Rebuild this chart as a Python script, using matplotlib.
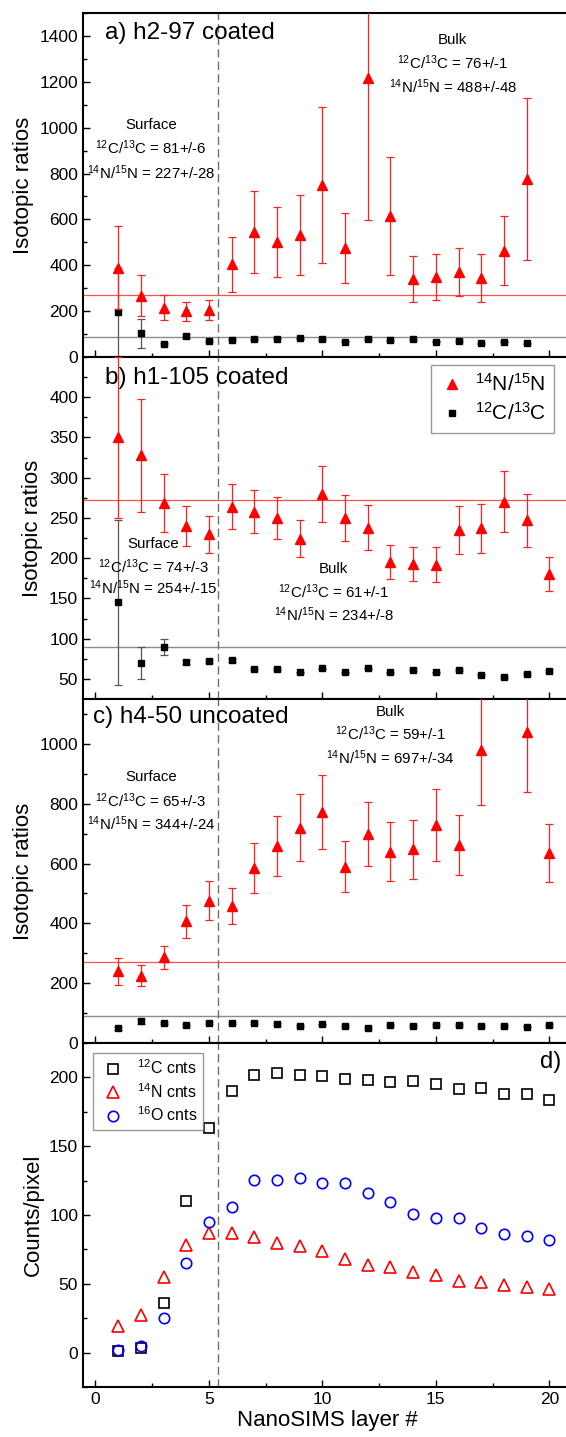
import matplotlib.pyplot as plt
from matplotlib.ticker import MultipleLocator
from matplotlib.lines import Line2D
import numpy as np

plt.rcParams['font.family'] = ['Liberation Sans', 'DejaVu Sans']
plt.rcParams['mathtext.fontset'] = 'custom'
plt.rcParams['mathtext.rm'] = 'Liberation Sans'
plt.rcParams['mathtext.it'] = 'Liberation Sans:italic'
plt.rcParams['mathtext.bf'] = 'Liberation Sans:bold'

# ---- data ----
layers = np.arange(1, 21)

# a) h2-97 coated
a_x = np.arange(1, 20)
a_n = [390, 268, 215, 200, 205, 405, 545, 500, 532, 748, 475, 1215, 615, 340, 350, 369, 344, 464, 777]
a_n_err = [180, 90, 55, 42, 45, 120, 178, 153, 175, 340, 153, 617, 256, 102, 100, 105, 103, 150, 352]
a_c = [195, 103, 58, 92, 70, 76, 77, 80, 81, 77, 67, 77, 73, 77, 67, 70, 60, 67, 60]
a_c_err = [195, 62, 5, 10, 5, 3, 3, 3, 3, 3, 3, 3, 3, 3, 3, 3, 3, 3, 3]

# b) h1-105 coated
b_x = np.arange(1, 21)
b_n = [350, 328, 268, 240, 230, 264, 258, 250, 224, 280, 250, 238, 195, 193, 192, 235, 237, 270, 247, 180]
b_n_err = [100, 70, 36, 25, 23, 28, 27, 26, 23, 35, 29, 28, 21, 21, 22, 30, 30, 38, 33, 21]
b_c = [145, 70, 90, 71, 72, 73, 62, 62, 58, 63, 58, 63, 58, 61, 58, 61, 55, 52, 56, 60]
b_c_err = [103, 20, 10, 3, 2, 2, 1, 1, 1, 1, 1, 1, 1, 1, 1, 1, 1, 1, 1, 1]

# c) h4-50 uncoated
c_nx = [1, 2, 3, 4, 5, 6, 7, 8, 9, 10, 11, 12, 13, 14, 15, 16, 17, 19, 20]
c_n = [240, 225, 287, 407, 475, 458, 585, 658, 720, 773, 590, 700, 639, 648, 728, 661, 980, 1039, 635]
c_n_err = [45, 35, 38, 55, 65, 60, 83, 100, 113, 123, 85, 107, 99, 99, 121, 101, 185, 201, 97]
c_cx = np.arange(1, 21)
c_c = [49, 72, 66, 60, 66, 68, 66, 64, 57, 62, 57, 51, 60, 57, 60, 60, 58, 58, 55, 60]
c_c_err = [5, 8, 3, 3, 3, 3, 3, 3, 3, 3, 3, 3, 3, 3, 3, 3, 3, 3, 3, 3]

# d) counts
cnt_12c = [1, 3, 36, 110, 163, 190, 202, 203, 202, 201, 199, 198, 197, 197.5, 195, 191.5, 192, 188, 188, 183.5]
cnt_14n = [19, 27, 55, 78, 87, 87, 84, 80, 77.5, 74, 68, 64, 62.5, 58.6, 56.5, 52, 51, 49, 48, 46]
cnt_16o = [2, 5, 25.5, 65, 95, 106, 125.5, 125.5, 127, 123, 123, 116, 109.5, 101, 97.5, 97.5, 90.4, 86.5, 85, 81.7]

terr_n = 272
terr_c = 89
boundary = 5.4

C_lab = r'$^{12}$C/$^{13}$C'
N_lab = r'$^{14}$N/$^{15}$N'

fig = plt.figure(figsize=(5.66, 14.37), dpi=100)
W, H = 566.0, 1437.0
edges = [13, 357, 699, 1043, 1387]
axes = []
for i in range(4):
    top, bot = edges[i], edges[i + 1]
    ax = fig.add_axes([83 / W, 1 - bot / H, 489 / W, (bot - top) / H],
                      sharex=axes[0] if axes else None)
    axes.append(ax)

ax_a, ax_b, ax_c, ax_d = axes


def ratio_panel(ax, nx, n, nerr, cx, c, cerr):
    ax.axhline(terr_n, color='#ff5050', lw=0.9, zorder=1)
    ax.axhline(terr_c, color='#8c8c8c', lw=1.0, zorder=1)
    ax.errorbar(cx, c, yerr=cerr, fmt='s', color='black', ms=4.5,
                ecolor='#555555', elinewidth=0.9, capsize=3, capthick=0.9, zorder=3)
    ax.errorbar(nx, n, yerr=nerr, fmt='^', color='red', ms=7.5,
                ecolor='#ff2020', elinewidth=0.9, capsize=3, capthick=0.9, zorder=4)
    ax.set_ylabel('Isotopic ratios', fontsize=16)


ratio_panel(ax_a, a_x, a_n, a_n_err, a_x, a_c, a_c_err)
ratio_panel(ax_b, b_x, b_n, b_n_err, b_x, b_c, b_c_err)
ratio_panel(ax_c, c_nx, c_n, c_n_err, c_cx, c_c, c_c_err)

ax_d.plot(layers, cnt_12c, 's', mfc='none', mec='black', ms=7, mew=1.2, label=r'$^{12}$C cnts')
ax_d.plot(layers, cnt_14n, '^', mfc='none', mec='red', ms=8.5, mew=1.2, label=r'$^{14}$N cnts')
ax_d.plot(layers, cnt_16o, 'o', mfc='none', mec='blue', ms=7.5, mew=1.2, label=r'$^{16}$O cnts')
ax_d.set_ylabel('Counts/pixel', fontsize=16)
ax_d.set_xlabel('NanoSIMS layer #', fontsize=16, labelpad=2)

# axis limits / ticks
ax_a.set_ylim(0, 1500)
ax_a.set_yticks(range(0, 1401, 200))
ax_a.yaxis.set_minor_locator(MultipleLocator(100))
ax_b.set_ylim(25, 450)
ax_b.set_yticks(range(50, 401, 50))
ax_b.yaxis.set_minor_locator(MultipleLocator(25))
ax_c.set_ylim(0, 1150)
ax_c.set_yticks(range(0, 1001, 200))
ax_c.yaxis.set_minor_locator(MultipleLocator(100))
ax_d.set_ylim(-25, 225)
ax_d.set_yticks(range(0, 201, 50))
ax_d.yaxis.set_minor_locator(MultipleLocator(25))

ax_d.set_xlim(-0.55, 21)
ax_d.set_xticks(range(0, 21, 5))
ax_d.xaxis.set_minor_locator(MultipleLocator(2.5))

for ax in axes:
    ax.axvline(boundary, color='#707070', lw=1.0, ls=(0, (6, 3)), zorder=2)
    ax.tick_params(which='both', direction='in', top=False, right=False,
                   labelsize=12.5, width=1.0)
    ax.tick_params(which='major', length=5)
    ax.tick_params(which='minor', length=3)
    for s in ax.spines.values():
        s.set_linewidth(1.5)
    if ax is not ax_d:
        ax.tick_params(labelbottom=False)

# panel titles
ax_a.text(0.42, 1413, 'a) h2-97 coated', fontsize=17.5, va='center')
ax_b.text(0.42, 424, 'b) h1-105 coated', fontsize=17.5, va='center')
ax_c.text(-0.1, 1091, 'c) h4-50 uncoated', fontsize=17.5, va='center')
ax_d.text(19.6, 211, 'd)', fontsize=17, va='center')


# annotations
def block(ax, x, ys, lines):
    for y, s in zip(ys, lines):
        ax.text(x, y, s, fontsize=10.8, ha='center', va='center')


block(ax_a, 2.45, [1010, 914, 805], ['Surface', C_lab + ' = 81+/-6', N_lab + ' = 227+/-28'])
block(ax_a, 15.75, [1382, 1282, 1177], ['Bulk', C_lab + ' = 76+/-1', N_lab + ' = 488+/-48'])
block(ax_b, 2.55, [218, 189.5, 163.6], ['Surface', C_lab + ' = 74+/-3', N_lab + ' = 254+/-15'])
block(ax_b, 10.5, [187, 158.6, 130], ['Bulk', C_lab + ' = 61+/-1', N_lab + ' = 234+/-8'])
block(ax_c, 2.45, [889, 809, 731.5], ['Surface', C_lab + ' = 65+/-3', N_lab + ' = 344+/-24'])
block(ax_c, 13.0, [1107, 1033.6, 953], ['Bulk', C_lab + ' = 59+/-1', N_lab + ' = 697+/-34'])

# legends
handles = [Line2D([], [], ls='none', marker='^', color='red', ms=7.5),
           Line2D([], [], ls='none', marker='s', color='black', ms=4.5)]
leg = ax_b.legend(handles, [N_lab, C_lab], loc='upper right', bbox_to_anchor=(0.963, 0.977),
                  borderaxespad=0, fontsize=15, fancybox=False, edgecolor='#808080',
                  handlelength=1.2, handletextpad=0.5, labelspacing=0.35, borderpad=0.4)
leg.get_frame().set_linewidth(1.0)

leg = ax_d.legend(loc='upper left', bbox_to_anchor=(0.02, 0.971), borderaxespad=0,
                  fontsize=11.5, fancybox=False, edgecolor='#808080',
                  handletextpad=0.6, labelspacing=0.3, borderpad=0.35, handlelength=1.8)
leg.get_frame().set_linewidth(1.0)

fig.savefig('out.png', dpi=100)
